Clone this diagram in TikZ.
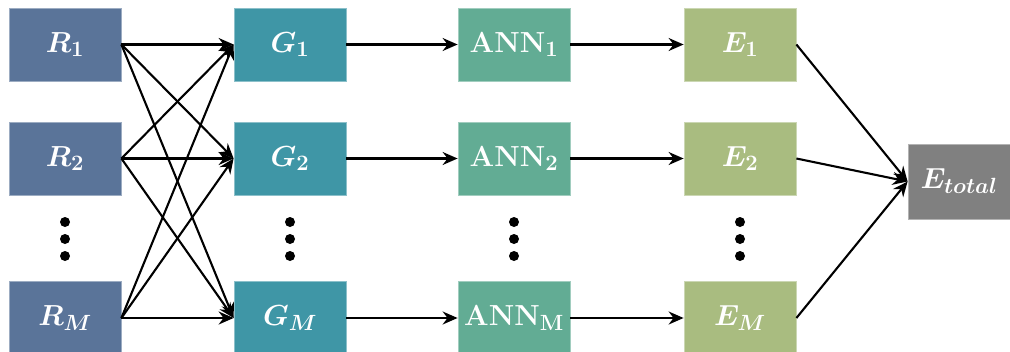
\RequirePackage{fix-cm}
\documentclass[tikz,border=0pt]{standalone}
\usetikzlibrary{arrows.meta}
\DeclareMathSizes{29}{29}{22}{16}
\definecolor{rcol}{HTML}{5A7499}
\definecolor{gcol}{HTML}{3F96A6}
\definecolor{acol}{HTML}{62AC94}
\definecolor{ecol}{HTML}{A9BC80}
\definecolor{tcol}{HTML}{808080}
\begin{document}
\begin{tikzpicture}[x=1pt,y=-1pt,
  box/.style={minimum width=112pt,minimum height=73pt,inner sep=0pt,text=white,
    font=\fontsize{29}{33}\selectfont\boldmath, line width=0.8pt},
  rbox/.style={box,fill=rcol,draw=rcol!60!white},
  gbox/.style={box,fill=gcol,draw=gcol!60!white},
  abox/.style={box,fill=acol,draw=acol!60!white},
  ebox/.style={box,fill=ecol,draw=ecol!60!white},
  tbox/.style={box,fill=tcol,draw=tcol!60!white,minimum width=102pt,minimum height=75pt},
  conn/.style={line width=2.1pt,-{Stealth[length=15pt,width=13pt,inset=5pt]}},
  vdot/.style={circle,fill=black,inner sep=0pt,minimum size=10pt}
]
\clip (0,0) rectangle (1010,351);
\useasboundingbox (0,0) rectangle (1010,351);
% nodes
\node[rbox] (R1) at (65,44.5) {$R_1$};
\node[rbox] (R2) at (65,158.5) {$R_2$};
\node[rbox] (RM) at (65,318) {$R_M$};
\node[gbox] (G1) at (290,44.5) {$G_1$};
\node[gbox] (G2) at (290,158.5) {$G_2$};
\node[gbox] (GM) at (290,318) {$G_M$};
\node[abox] (A1) at (514,44.5) {$\mathbf{ANN}_{\mathbf{1}}$};
\node[abox] (A2) at (514,158.5) {$\mathbf{ANN}_{\mathbf{2}}$};
\node[abox] (AM) at (514,318) {$\mathbf{ANN}_{\mathbf{M}}$};
\node[ebox] (E1) at (740,44.5) {$E_1$};
\node[ebox] (E2) at (740,158.5) {$E_2$};
\node[ebox] (EM) at (740,318) {$E_M$};
\node[tbox] (ET) at (959,181.5) {$E_{total}$};
% dots
\foreach \x/\n in {65/r,290/g,514/a,740/e}{
  \node[vdot] (\n d1) at (\x,222) {};
  \node[vdot] (\n d2) at (\x,239) {};
  \node[vdot] (\n d3) at (\x,256) {};
}
% connectors
\foreach \a in {R1,R2,RM}{
  \foreach \b in {G1,G2,GM}{
    \draw[conn] (\a.east) -- (\b.west);
  }
}
\draw[conn] (G1.east) -- (A1.west);
\draw[conn] (G2.east) -- (A2.west);
\draw[conn] (GM.east) -- (AM.west);
\draw[conn] (A1.east) -- (E1.west);
\draw[conn] (A2.east) -- (E2.west);
\draw[conn] (AM.east) -- (EM.west);
\draw[conn] (E1.east) -- (ET.west);
\draw[conn] (E2.east) -- (ET.west);
\draw[conn] (EM.east) -- (ET.west);
\end{tikzpicture}
\end{document}
